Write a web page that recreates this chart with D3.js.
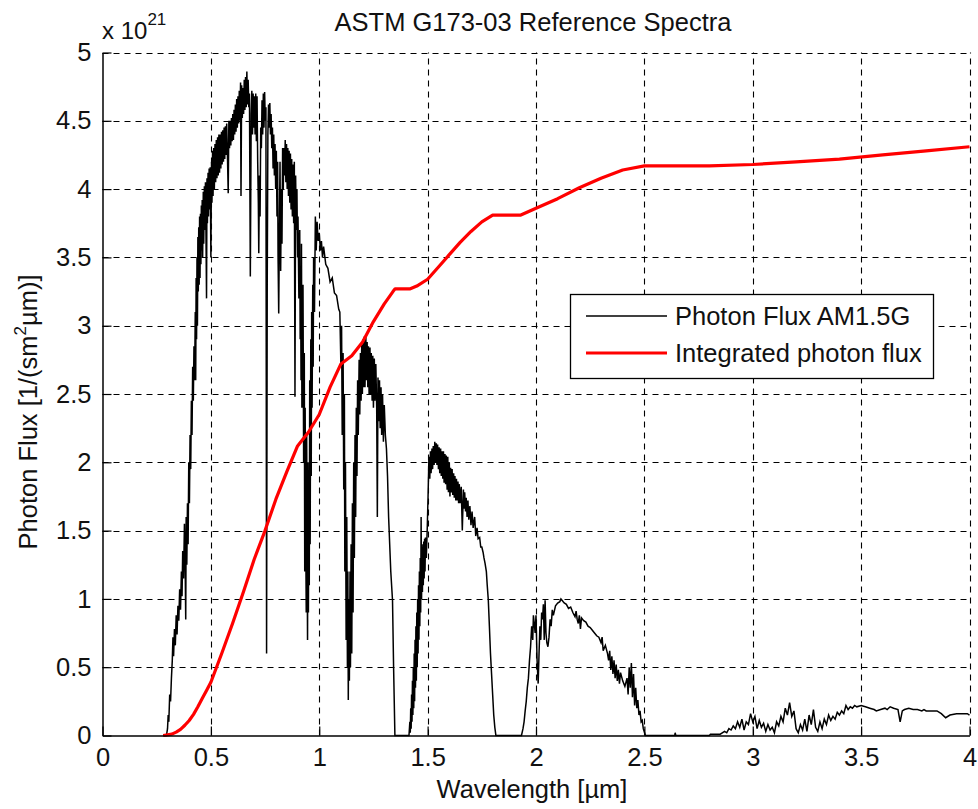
<!DOCTYPE html>
<html>
<head>
<meta charset="utf-8">
<script src="https://cdn.jsdelivr.net/npm/d3@7"></script>
<style>
  html, body { margin: 0; padding: 0; background: #fff; }
  svg { display: block; }
  text { font-family: "Liberation Sans", Arial, sans-serif; fill: #111; }
</style>
</head>
<body>
<svg id="chart" width="978" height="809"></svg>
<script>
// AM1.5G photon flux, wavelength [µm] -> flux [x 1e21 1/(s m² µm)]
const spectrum = [
  [0.280,0],[0.295,0],[0.300,0.05],[0.303,0.15],[0.306,0.10],[0.310,0.30],[0.314,0.25],[0.318,0.42],
  [0.322,0.55],[0.325,0.72],[0.328,0.58],[0.332,0.78],[0.336,0.66],[0.340,0.88],[0.344,0.74],[0.348,0.95],
  [0.352,0.84],[0.356,1.07],[0.360,0.92],[0.364,1.20],[0.367,1.02],[0.370,1.35],[0.374,1.15],[0.378,1.55],
  [0.381,1.30],[0.384,0.85],[0.386,1.60],[0.389,1.25],[0.392,1.70],[0.395,1.40],[0.398,2.00],[0.401,1.70],
  [0.404,2.20],[0.407,1.95],[0.410,2.45],[0.413,2.20],[0.416,2.70],[0.419,2.45],[0.422,2.85],[0.425,2.60],
  [0.428,3.10],[0.430,2.60],[0.432,3.35],[0.434,2.90],[0.436,3.50],[0.438,3.00],[0.440,3.65],[0.442,3.25],
  [0.444,3.72],[0.446,3.30],[0.448,3.80],[0.450,3.35],[0.452,3.82],[0.454,3.45],[0.456,3.88],[0.458,3.55],
  [0.460,3.92],[0.462,3.50],[0.465,3.98],[0.467,3.60],[0.470,4.02],[0.472,3.70],[0.475,4.05],[0.477,3.75],
  [0.480,3.20],[0.482,4.08],[0.484,3.75],[0.487,4.12],[0.489,3.80],[0.492,4.15],[0.494,3.85],[0.497,4.16],
  [0.500,3.50],[0.503,4.20],[0.505,3.90],[0.508,4.28],[0.510,3.95],[0.513,4.30],[0.516,4.00],[0.519,4.33],
  [0.522,4.05],[0.525,4.36],[0.528,4.08],[0.531,4.38],[0.534,4.10],[0.537,4.40],[0.540,4.12],[0.543,4.40],
  [0.546,4.15],[0.549,4.42],[0.552,4.18],[0.555,4.43],[0.558,4.20],[0.561,4.45],[0.564,4.22],[0.567,4.46],
  [0.570,4.25],[0.573,4.48],[0.576,4.28],[0.580,3.97],[0.583,4.50],[0.586,4.30],[0.589,4.50],[0.592,4.32],
  [0.595,4.52],[0.598,4.35],[0.601,4.55],[0.604,4.36],[0.607,4.58],[0.610,4.40],[0.613,4.62],[0.616,4.42],
  [0.619,4.66],[0.622,4.45],[0.625,4.68],[0.628,4.48],[0.631,4.72],[0.634,4.50],[0.637,4.78],[0.639,3.95],
  [0.642,4.76],[0.645,4.52],[0.648,4.74],[0.651,4.55],[0.654,4.80],[0.657,4.58],[0.660,4.82],[0.663,4.60],
  [0.666,4.86],[0.669,4.62],[0.672,4.80],[0.675,4.60],[0.678,4.70],[0.682,3.36],[0.686,4.55],[0.689,4.72],
  [0.692,4.40],[0.695,4.70],[0.698,4.45],[0.701,4.68],[0.704,4.40],[0.707,4.70],[0.710,4.35],[0.713,4.68],
  [0.716,4.20],[0.719,3.90],[0.721,3.53],[0.724,4.10],[0.727,3.80],[0.730,4.45],[0.733,4.30],[0.736,4.65],
  [0.739,4.40],[0.742,4.70],[0.745,4.45],[0.748,4.71],[0.751,4.50],[0.754,4.60],[0.757,0.60],[0.760,3.30],
  [0.763,4.40],[0.766,4.62],[0.769,4.45],[0.772,4.63],[0.775,4.40],[0.778,4.55],[0.781,4.30],[0.784,4.45],
  [0.787,4.15],[0.790,4.40],[0.793,4.10],[0.796,4.33],[0.799,4.00],[0.802,4.28],[0.805,3.80],[0.808,4.20],
  [0.810,3.50],[0.813,3.09],[0.816,3.70],[0.819,4.20],[0.822,3.40],[0.825,4.00],[0.828,3.60],[0.831,4.30],
  [0.834,4.00],[0.837,4.30],[0.840,4.10],[0.843,4.36],[0.846,4.05],[0.849,4.33],[0.852,4.00],[0.855,4.30],
  [0.858,3.95],[0.861,4.28],[0.864,3.90],[0.867,4.26],[0.870,3.85],[0.873,4.22],[0.876,3.80],[0.879,4.18],
  [0.882,3.75],[0.885,4.20],[0.888,2.48],[0.891,4.10],[0.894,3.70],[0.897,4.00],[0.900,3.50],[0.902,3.80],
  [0.906,3.20],[0.910,3.70],[0.912,2.90],[0.914,3.40],[0.916,2.60],[0.918,3.60],[0.920,2.40],[0.922,3.10],
  [0.925,3.30],[0.928,2.00],[0.931,2.80],[0.933,1.20],[0.935,2.40],[0.937,1.60],[0.940,0.90],[0.942,2.20],
  [0.944,1.40],[0.946,0.70],[0.948,2.00],[0.950,0.90],[0.952,1.80],[0.954,1.10],[0.956,2.60],[0.958,1.40],
  [0.961,2.90],[0.963,1.90],[0.965,3.10],[0.967,2.40],[0.970,3.30],[0.972,2.70],[0.974,3.50],[0.978,3.10],
  [0.982,3.80],[0.986,3.55],[0.990,3.76],[0.995,3.62],[1.000,3.68],[1.005,3.55],[1.010,3.62],[1.015,3.50],
  [1.020,3.58],[1.030,3.45],[1.040,3.42],[1.050,3.32],[1.060,3.35],[1.070,3.24],[1.080,3.22],[1.090,3.12],
  [1.095,3.10],[1.100,2.70],[1.103,3.00],[1.106,2.20],[1.110,2.80],[1.113,1.80],[1.116,2.50],[1.118,1.20],
  [1.121,2.00],[1.124,0.70],[1.127,1.60],[1.130,0.50],[1.132,1.20],[1.134,0.26],[1.136,1.00],[1.139,0.40],
  [1.142,1.20],[1.144,0.50],[1.147,1.40],[1.150,0.60],[1.153,1.70],[1.156,0.90],[1.159,2.00],[1.162,1.30],
  [1.165,2.20],[1.168,1.60],[1.171,2.40],[1.174,1.90],[1.177,2.60],[1.180,2.20],[1.184,2.75],[1.187,2.35],
  [1.190,2.80],[1.193,2.45],[1.196,2.86],[1.199,2.50],[1.202,2.90],[1.205,2.55],[1.208,2.92],[1.211,2.55],
  [1.215,2.92],[1.218,2.60],[1.221,2.88],[1.224,2.55],[1.227,2.85],[1.230,2.50],[1.234,2.84],[1.237,2.50],
  [1.240,2.80],[1.244,2.45],[1.247,2.78],[1.250,2.40],[1.254,2.76],[1.257,2.45],[1.261,2.72],[1.265,2.40],
  [1.268,1.60],[1.271,2.62],[1.274,2.30],[1.278,2.60],[1.281,2.25],[1.285,2.55],[1.288,2.20],[1.292,2.50],
  [1.296,2.15],[1.300,2.42],[1.305,2.20],[1.310,2.10],[1.315,1.90],[1.320,1.60],[1.325,1.40],[1.330,1.20],
  [1.338,0.99],[1.343,0.50],[1.349,0],[1.414,0],[1.418,0.10],[1.420,0.02],[1.422,0.20],[1.424,0.05],
  [1.426,0.30],[1.428,0.10],[1.430,0.40],[1.432,0.15],[1.434,0.50],[1.436,0.20],[1.438,0.60],[1.440,0.25],
  [1.442,0.70],[1.444,0.35],[1.446,0.80],[1.448,0.40],[1.450,0.90],[1.452,0.50],[1.454,1.00],[1.456,0.60],
  [1.458,1.10],[1.460,0.70],[1.462,1.20],[1.464,0.80],[1.466,1.30],[1.468,0.90],[1.470,1.60],[1.472,1.00],
  [1.474,1.38],[1.476,1.05],[1.478,1.40],[1.480,1.10],[1.482,1.42],[1.484,1.15],[1.486,1.44],[1.488,1.20],
  [1.490,1.45],[1.494,1.30],[1.498,1.50],[1.502,1.75],[1.506,2.04],[1.510,1.88],[1.513,2.08],[1.516,1.92],
  [1.520,2.10],[1.523,1.95],[1.526,2.12],[1.530,1.98],[1.533,2.15],[1.536,2.00],[1.540,2.14],[1.543,1.98],
  [1.546,2.13],[1.550,1.95],[1.553,2.11],[1.556,1.92],[1.560,2.10],[1.563,1.90],[1.566,2.08],[1.570,1.88],
  [1.573,2.08],[1.576,1.85],[1.580,2.06],[1.583,1.84],[1.586,2.05],[1.590,1.80],[1.593,2.04],[1.596,1.78],
  [1.600,2.00],[1.603,1.75],[1.606,1.96],[1.610,1.78],[1.613,1.95],[1.616,1.76],[1.620,1.92],[1.623,1.74],
  [1.626,1.90],[1.630,1.72],[1.633,1.88],[1.636,1.72],[1.640,1.86],[1.643,1.70],[1.646,1.84],[1.650,1.70],
  [1.655,1.82],[1.660,1.50],[1.665,1.80],[1.668,1.66],[1.671,1.78],[1.675,1.64],[1.678,1.74],[1.682,1.60],
  [1.686,1.72],[1.690,1.58],[1.695,1.68],[1.700,1.54],[1.705,1.64],[1.710,1.52],[1.717,1.60],[1.722,1.46],
  [1.728,1.52],[1.733,1.44],[1.740,1.45],[1.745,1.38],[1.750,1.38],[1.756,1.34],[1.760,1.30],[1.765,1.26],
  [1.771,1.20],[1.775,1.10],[1.780,0.99],[1.785,0.80],[1.790,0.60],[1.795,0.45],[1.800,0.30],[1.805,0.15],
  [1.810,0.06],[1.815,0],[1.933,0],[1.940,0.05],[1.945,0.10],[1.950,0.18],[1.955,0.25],[1.960,0.35],
  [1.965,0.42],[1.970,0.55],[1.975,0.65],[1.980,0.80],[1.985,0.70],[1.988,0.88],[1.992,0.82],[1.996,0.75],
  [2.000,0.88],[2.005,0.55],[2.010,0.38],[2.014,0.60],[2.018,0.80],[2.022,0.70],[2.026,0.90],[2.030,0.85],
  [2.034,0.96],[2.038,0.70],[2.042,0.99],[2.046,0.75],[2.050,0.68],[2.055,0.65],[2.060,0.72],[2.065,0.85],
  [2.070,0.80],[2.075,0.92],[2.080,0.88],[2.090,0.95],[2.100,0.97],[2.110,0.98],[2.115,1.00],[2.120,0.99],
  [2.130,0.97],[2.140,0.96],[2.150,0.93],[2.160,0.94],[2.170,0.90],[2.180,0.87],[2.185,0.91],[2.190,0.85],
  [2.195,0.82],[2.200,0.88],[2.205,0.78],[2.210,0.86],[2.220,0.84],[2.230,0.83],[2.240,0.80],[2.250,0.79],
  [2.260,0.77],[2.270,0.75],[2.280,0.73],[2.290,0.72],[2.300,0.68],[2.305,0.72],[2.310,0.62],[2.320,0.66],
  [2.330,0.60],[2.335,0.55],[2.340,0.62],[2.345,0.48],[2.350,0.58],[2.355,0.45],[2.360,0.55],[2.365,0.42],
  [2.370,0.52],[2.375,0.40],[2.380,0.48],[2.385,0.38],[2.390,0.46],[2.400,0.40],[2.410,0.36],[2.420,0.42],
  [2.425,0.30],[2.430,0.50],[2.435,0.35],[2.440,0.53],[2.445,0.28],[2.450,0.45],[2.455,0.22],[2.460,0.35],
  [2.465,0.20],[2.470,0.26],[2.475,0.15],[2.480,0.18],[2.485,0.10],[2.490,0.11],[2.495,0.05],[2.505,0],
  [2.640,0],[2.642,0.02],[2.645,0],[2.800,0],[2.805,0.01],[2.850,0.01],[2.870,0.03],[2.880,0.02],
  [2.890,0.05],[2.900,0.04],[2.910,0.07],[2.920,0.05],[2.930,0.10],[2.940,0.06],[2.950,0.12],[2.960,0.04],
  [2.970,0.10],[2.980,0.08],[2.990,0.16],[3.000,0.10],[3.010,0.14],[3.020,0.05],[3.030,0.11],[3.040,0.06],
  [3.050,0.09],[3.060,0.03],[3.070,0.08],[3.080,0.04],[3.090,0.06],[3.100,0.02],[3.110,0.10],[3.120,0.07],
  [3.130,0.14],[3.140,0.10],[3.150,0.20],[3.160,0.15],[3.170,0.24],[3.180,0.14],[3.190,0.18],[3.200,0.05],
  [3.210,0.02],[3.220,0.08],[3.230,0.04],[3.240,0.12],[3.250,0.03],[3.260,0.15],[3.270,0.08],[3.280,0.19],
  [3.290,0.06],[3.300,0.03],[3.310,0.10],[3.320,0.05],[3.330,0.12],[3.340,0.08],[3.350,0.15],[3.360,0.11],
  [3.370,0.14],[3.380,0.12],[3.390,0.17],[3.400,0.15],[3.410,0.18],[3.420,0.16],[3.430,0.22],[3.440,0.19],
  [3.450,0.21],[3.460,0.20],[3.470,0.22],[3.480,0.21],[3.500,0.22],[3.520,0.21],[3.540,0.20],[3.560,0.19],
  [3.570,0.18],[3.590,0.19],[3.610,0.20],[3.620,0.19],[3.634,0.21],[3.650,0.20],[3.670,0.19],[3.680,0.10],
  [3.690,0.18],[3.700,0.19],[3.720,0.20],[3.740,0.19],[3.760,0.19],[3.780,0.18],[3.790,0.19],[3.800,0.18],
  [3.820,0.18],[3.850,0.18],[3.870,0.16],[3.890,0.13],[3.910,0.15],[3.940,0.16],[3.970,0.16],[3.990,0.16],
  [4.000,0.15]
];

// Running integral of the photon flux, [x 1e21 1/(s m²)]
const integrated = [
  [0.28,0],[0.30,0.005],[0.32,0.01],[0.34,0.025],[0.36,0.045],[0.38,0.075],[0.40,0.11],[0.42,0.155],
  [0.44,0.21],[0.46,0.27],[0.48,0.33],[0.50,0.39],[0.55,0.60],[0.60,0.82],[0.65,1.05],[0.70,1.29],
  [0.75,1.50],[0.80,1.73],[0.85,1.93],[0.90,2.12],[0.95,2.22],[1.00,2.35],[1.05,2.55],[1.10,2.72],
  [1.15,2.78],[1.20,2.88],[1.25,3.03],[1.30,3.16],[1.34,3.25],[1.35,3.27],[1.42,3.27],[1.45,3.29],
  [1.50,3.34],[1.55,3.43],[1.60,3.52],[1.65,3.61],[1.70,3.69],[1.75,3.76],[1.80,3.81],[1.93,3.81],
  [2.00,3.86],[2.10,3.93],[2.20,4.01],[2.30,4.08],[2.40,4.14],[2.50,4.17],[2.80,4.17],[3.00,4.18],
  [3.20,4.20],[3.40,4.22],[3.60,4.25],[3.80,4.28],[4.00,4.31]
];

const xTicks = [0, 0.5, 1, 1.5, 2, 2.5, 3, 3.5, 4];
const yTicks = [0, 0.5, 1, 1.5, 2, 2.5, 3, 3.5, 4, 4.5, 5];
const seriesNames = ["Photon Flux AM1.5G", "Integrated photon flux"];
const seriesColors = ["#000000", "#ff0000"];

const FONT = 25.5;
const plot = { left: 102.5, right: 969.5, top: 52.5, bottom: 735.5 };

const svg = d3.select("#chart");
const x = d3.scaleLinear().domain([0, 4]).range([plot.left, plot.right]);
const y = d3.scaleLinear().domain([0, 5]).range([plot.bottom, plot.top]);

// dashed grid
const grid = svg.append("g").attr("stroke", "#000").attr("stroke-width", 1.1)
  .attr("stroke-dasharray", "6,5").attr("fill", "none");
grid.selectAll("line.v").data(xTicks.filter(d => d > 0)).join("line")
  .attr("x1", d => Math.round(x(d)) + 0.5).attr("x2", d => Math.round(x(d)) + 0.5)
  .attr("y1", plot.bottom).attr("y2", plot.top);
grid.selectAll("line.h").data(yTicks.filter(d => d > 0)).join("line")
  .attr("x1", plot.left).attr("x2", plot.right)
  .attr("y1", d => Math.round(y(d)) + 0.5).attr("y2", d => Math.round(y(d)) + 0.5);

// data lines
const line = d3.line().x(d => x(d[0])).y(d => y(d[1]));
svg.append("path").datum(spectrum).attr("d", line)
  .attr("fill", "none").attr("stroke", seriesColors[0]).attr("stroke-width", 1.5)
  .attr("stroke-linejoin", "miter");
svg.append("path").datum(integrated).attr("d", line)
  .attr("fill", "none").attr("stroke", seriesColors[1]).attr("stroke-width", 3.2)
  .attr("stroke-linejoin", "round");

// axes with inward ticks
const fmt = d3.format("~g");
const xAxis = svg.append("g").attr("transform", `translate(0,${plot.bottom})`)
  .call(d3.axisBottom(x).tickValues(xTicks).tickFormat(fmt).tickSizeInner(-9).tickSizeOuter(0).tickPadding(12));
const yAxis = svg.append("g").attr("transform", `translate(${plot.left},0)`)
  .call(d3.axisLeft(y).tickValues(yTicks).tickFormat(fmt).tickSizeInner(-9).tickSizeOuter(0).tickPadding(11));
[xAxis, yAxis].forEach(a => {
  a.selectAll(".domain").attr("stroke", "#000").attr("stroke-width", 1.5);
  a.selectAll(".tick line").attr("stroke", "#000").attr("stroke-width", 1.2);
  a.selectAll(".tick text").attr("font-size", FONT).attr("font-family", "Liberation Sans, Arial, sans-serif").attr("fill", "#111");
});

// exponent marker
const expo = svg.append("text").attr("x", 102).attr("y", 39).attr("font-size", 24);
expo.append("tspan").text("x 10");
expo.append("tspan").attr("dy", -14).attr("font-size", 17).text("21");

// title
svg.append("text").attr("x", 533).attr("y", 31).attr("text-anchor", "middle")
  .attr("font-size", FONT).text("ASTM G173-03 Reference Spectra");

// x label
svg.append("text").attr("x", 532).attr("y", 798).attr("text-anchor", "middle")
  .attr("font-size", FONT).text("Wavelength [µm]");

// y label
const yl = svg.append("text").attr("transform", "translate(37,412) rotate(-90)")
  .attr("text-anchor", "middle").attr("font-size", FONT);
yl.append("tspan").text("Photon Flux [1/(sm");
yl.append("tspan").attr("dy", -11).attr("font-size", 17).text("2");
yl.append("tspan").attr("dy", 11).text("µm)]");

// legend
const lg = svg.append("g");
lg.append("rect").attr("x", 570.5).attr("y", 294.5).attr("width", 363).attr("height", 84)
  .attr("fill", "#fff").attr("stroke", "#000").attr("stroke-width", 1.3);
seriesNames.forEach((name, i) => {
  const ly = 316 + i * 37;
  lg.append("line").attr("x1", 586).attr("x2", 667).attr("y1", ly).attr("y2", ly)
    .attr("stroke", seriesColors[i]).attr("stroke-width", i === 0 ? 1.3 : 3);
  lg.append("text").attr("x", 675).attr("y", ly).attr("dy", "0.35em")
    .attr("font-size", FONT).text(name);
});
</script>
</body>
</html>
